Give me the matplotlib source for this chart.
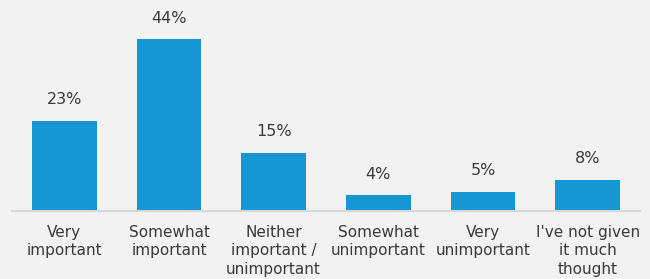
import numpy as np
import matplotlib.pyplot as plt

## DATA
categories = ['Very\nimportant', 'Somewhat\nimportant', 'Neither\nimportant /\nunimportant',
              'Somewhat\nunimportant', 'Very\nunimportant', "I've not given\nit much\nthought"]
values = [23, 44, 15, 4, 5, 8]

bg = '#f2f2f2'
barcol = '#1697d4'
txtcol = '#3a3a3a'

fig = plt.figure(figsize=(6.5, 2.79), dpi=100, facecolor=bg)
ax = fig.add_axes([12/650, 68/279, 628/650, 195/279], facecolor=bg)

x = np.arange(len(values))
ax.bar(x, values, width=0.62, color=barcol)
for xi, v in zip(x, values):
    ax.annotate('%d%%' % v, (xi, v), xytext=(0, 10), textcoords='offset points',
                ha='center', va='bottom', fontsize=11.5, color=txtcol)

ax.set_xlim(-0.5, len(values) - 0.5)
ax.set_ylim(0, 50)
ax.set_xticks(x)
ax.set_xticklabels(categories, fontsize=11, color=txtcol, linespacing=1.3)
ax.tick_params(axis='x', length=0, pad=10)
ax.set_yticks([])
for s in ['top', 'right', 'left']:
    ax.spines[s].set_visible(False)
ax.spines['bottom'].set_color('#d9d9d9')
ax.spines['bottom'].set_linewidth(1.5)

fig.savefig('out.png', dpi=100, facecolor=bg)
